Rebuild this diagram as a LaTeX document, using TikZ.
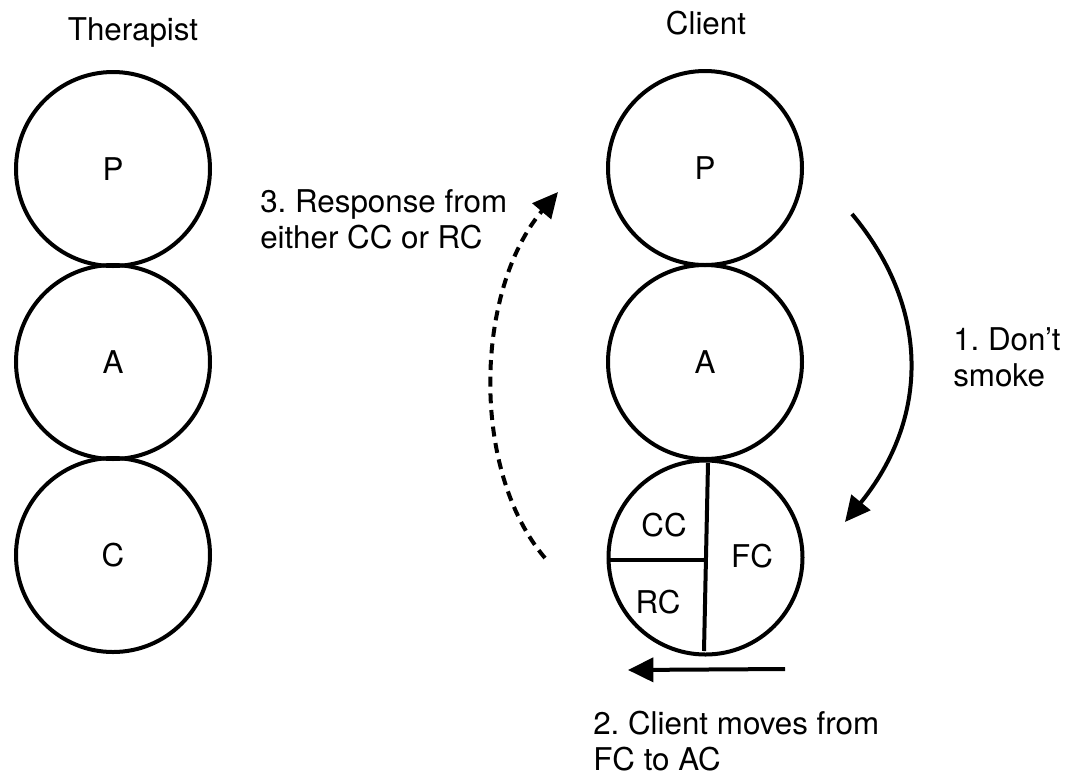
\documentclass[tikz,border=0pt]{standalone}
\usepackage{fontspec}
\setmainfont{TeX Gyre Heros}
\usetikzlibrary{arrows.meta}
\frenchspacing

\begin{document}
\begin{tikzpicture}[x=0.75pt,y=-0.75pt,
    every node/.append style={font=\fontsize{23.5}{27}\selectfont},
    ego/.style={circle,draw,line width=3pt,minimum size=145.5pt,inner sep=0pt},
    note/.style={align=left,anchor=west,inner sep=0pt},
    tip/.style={-{Triangle[length=19pt,width=18pt]},line width=3pt}]
    \useasboundingbox (0,0) rectangle (1074,776);

    \node at (133,32) {Therapist};
    \node (tP) [ego] at (113,169) {P};
    \node (tA) [ego] at (113,362) {A};
    \node (tC) [ego] at (113,555) {C};

    \node at (706,23) {Client};
    \node (cP) [ego] at (705,168) {P};
    \node (cA) [ego] at (705,362) {A};
    \node (cC) [ego] at (705.5,557.5) {};

    \draw[line width=3pt] (708,463) -- (704,651);
    \draw[line width=3pt] (cC.west |- 0,560) -- (706,560);
    \node (cc) at (664,525) {CC};
    \node (rc) at (658,602) {RC};
    \node (fc) at (752,556) {FC};

    \coordinate (don1) at (852,214);
    \coordinate (don2) at (845,522);
    \draw[tip] (don1) .. controls (932,310) and (928,420) .. (don2);
    \node[note] at (953,357) {1. Don’t\\smoke};

    \coordinate (mov1) at (785,669);
    \coordinate (mov2) at (628,670);
    \draw[tip] (mov1) -- (mov2);
    \node[note] at (593,741) {2. Client moves from\\FC to AC};

    \coordinate (res1) at (545,558);
    \coordinate (res2) at (558,192);
    \draw[tip,dash pattern=on 7.5pt off 5pt] (res1) .. controls (470,470) and (475,290) .. (res2);
    \node[note] at (260,219) {3. Response from\\either CC or RC};
\end{tikzpicture}
\end{document}
